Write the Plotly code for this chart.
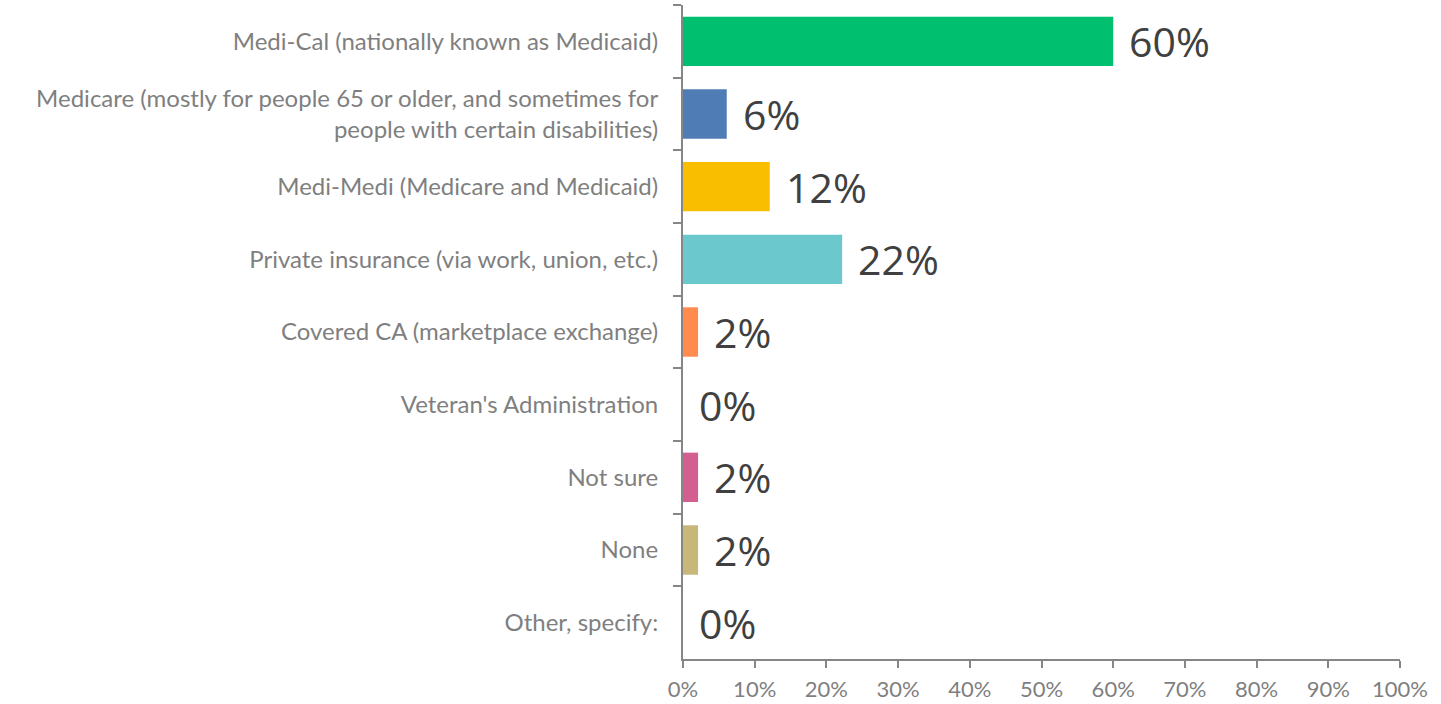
import plotly.graph_objects as go

# ----------- DATA --------- #
categories = [
    "Medi-Cal (nationally known as Medicaid)",
    "Medicare (mostly for people 65 or older, and sometimes for<br>people with certain disabilities)",
    "Medi-Medi (Medicare and Medicaid)",
    "Private insurance (via work, union, etc.)",
    "Covered CA (marketplace exchange)",
    "Veteran's Administration",
    "Not sure",
    "None",
    "Other, specify:",
]
shares = [0.60, 0.061, 0.121, 0.222, 0.021, 0.0, 0.021, 0.021, 0.0]
labels = ["60%", "6%", "12%", "22%", "2%", "0%", "2%", "2%", "0%"]
bar_colors = ["#00BF6F", "#507CB6", "#F9BE00", "#6BC8CD", "#FF8B4F",
              "#7D5BA6", "#D25F90", "#C7B879", "#A6A6A6"]
x_ticks = [i / 10 for i in range(11)]
x_tick_text = [f"{i * 10}%" for i in range(11)]

fig = go.Figure()
fig.add_trace(go.Bar(
    x=shares, y=categories, orientation="h",
    marker=dict(color=bar_colors, line=dict(width=0)),
    hoverinfo="skip",
))

# value labels to the right of each bar
for c, v, t in zip(categories, shares, labels):
    fig.add_annotation(x=v, y=c, text=t, showarrow=False, xanchor="left",
                       xshift=14, font=dict(family="Open Sans", size=41, color="#404040"))

fig.update_layout(
    width=1441, height=704,
    margin=dict(l=683, r=41, t=5, b=45),
    plot_bgcolor="white", paper_bgcolor="white",
    bargap=0.32, showlegend=False,
)
fig.update_xaxes(
    range=[0, 1], tickvals=x_ticks, ticktext=x_tick_text,
    showgrid=False, zeroline=False, automargin=False,
    showline=True, linecolor="#868686", linewidth=2,
    ticks="outside", ticklen=7, tickwidth=2, tickcolor="#868686",
    tickfont=dict(family="Lato", size=22, color="#7F7F7F"),
    ticklabelstandoff=3,
)
fig.update_yaxes(
    autorange="reversed", showgrid=False, automargin=False,
    showline=True, linecolor="#868686", linewidth=2,
    ticks="outside", tickson="boundaries", ticklen=8, tickwidth=2, tickcolor="#868686",
    tickfont=dict(family="Lato", size=24, color="#7F7F7F"),
    ticklabelstandoff=18,
)

# drop the browser's default page margin so the figure sits at the window corner
fig.write_html("out.html", config={"displayModeBar": False},
               post_script="document.body.style.margin='0';")
